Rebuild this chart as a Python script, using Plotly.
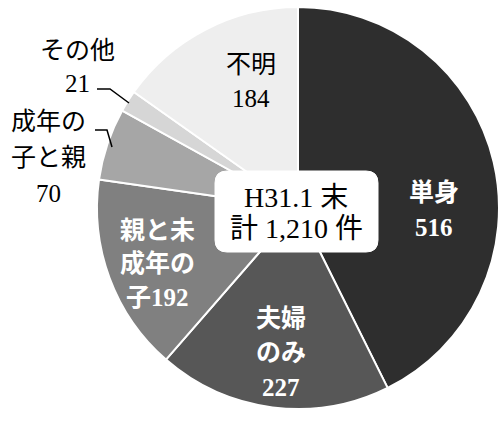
import plotly.graph_objects as go

categories = ["単身", "夫婦のみ", "親と未成年の子", "成年の子と親", "その他", "不明"]
values = [516, 227, 192, 70, 21, 184]
colors = ["#2e2e2e", "#575757", "#808080", "#a6a6a6", "#d6d6d6", "#eeeeee"]
title_lines = ["H31.1 末", "計 1,210 件"]

W, H = 500, 421
cx, cy, r = 298, 208, 201

fig = go.Figure()
fig.add_trace(go.Pie(
    labels=categories, values=values, sort=False, direction="clockwise", rotation=0,
    marker=dict(colors=colors, line=dict(color="white", width=2)),
    textinfo="none", hoverinfo="label+value", showlegend=False,
    domain=dict(x=[(cx - r) / W, (cx + r) / W], y=[1 - (cy + r) / H, 1 - (cy - r) / H]),
))

FONT = "Liberation Serif, Noto Sans CJK JP, serif"

def label(x, y, lines, color, size=25, gap=34, bold=False):
    for i, t in enumerate(lines):
        txt = f"<b>{t}</b>" if bold else t
        fig.add_annotation(x=x, y=y + i * gap, text=txt, showarrow=False, xref="x", yref="y",
                           font=dict(family=FONT, size=size, color=color), xanchor="center", yanchor="middle")

v = dict(zip(categories, values))
label(251, 64, ["不明", str(v["不明"])], "black", gap=34)
label(434, 192, ["単身", str(v["単身"])], "white", gap=35, bold=True)
label(281, 318, ["夫婦", "のみ", str(v["夫婦のみ"])], "white", gap=34.5, bold=True)
label(157, 230, ["親と未", "成年の", "子" + str(v["親と未成年の子"])], "white", gap=33.5, bold=True)
label(48, 121, ["成年の", "子と親", str(v["成年の子と親"])], "black", gap=36)
label(77, 50, ["その他", str(v["その他"])], "black", gap=33)

# leader lines
fig.add_shape(type="path", path="M 97 89 L 110 89 L 129 103", xref="x", yref="y",
              line=dict(color="black", width=1.5))
fig.add_shape(type="path", path="M 95 130 L 107 130 L 112 147", xref="x", yref="y",
              line=dict(color="black", width=1.5))

# center box with rounded corners
x0, x1, y0, y1, rr = 215, 378, 171, 252, 12
path = (f"M {x0+rr} {y0} L {x1-rr} {y0} Q {x1} {y0} {x1} {y0+rr} L {x1} {y1-rr} "
        f"Q {x1} {y1} {x1-rr} {y1} L {x0+rr} {y1} Q {x0} {y1} {x0} {y1-rr} "
        f"L {x0} {y0+rr} Q {x0} {y0} {x0+rr} {y0} Z")
fig.add_shape(type="path", path=path, xref="x", yref="y", fillcolor="white",
              line=dict(color="white", width=1), layer="above")
label(296, 197, title_lines, "black", size=28, gap=31)

fig.update_layout(
    width=W, height=H, margin=dict(l=0, r=0, t=0, b=0),
    paper_bgcolor="white", plot_bgcolor="rgba(0,0,0,0)",
    xaxis=dict(range=[0, W], visible=False, fixedrange=True),
    yaxis=dict(range=[H, 0], visible=False, fixedrange=True),
)
fig.write_html("out.html", config={"displayModeBar": False},
               post_script="document.body.style.margin='0';")
